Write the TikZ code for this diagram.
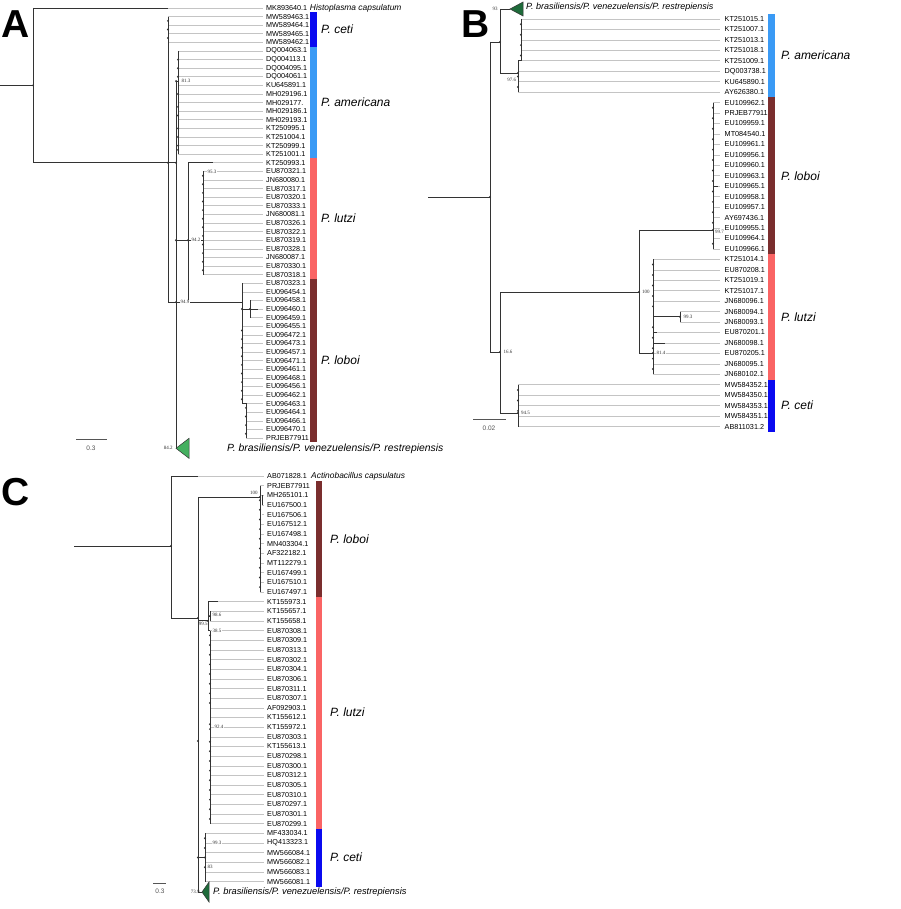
\documentclass[tikz,border=0pt]{standalone}
\usepackage{fontspec}
\setmainfont{Liberation Sans}
\newfontfamily\bsfont{Liberation Serif}
\definecolor{cceti}{HTML}{0A0AF0}
\definecolor{camer}{HTML}{3A9AF5}
\definecolor{clutzi}{HTML}{FA6464}
\definecolor{cloboi}{HTML}{7A2E2E}
\definecolor{tgA}{HTML}{45B060}
\definecolor{tgB}{HTML}{1E6B3A}
\definecolor{brc}{HTML}{333333}
\definecolor{lfc}{HTML}{C4C4C4}
\definecolor{scl}{HTML}{555555}
\newcommand\YA[1]{(8+8.6*(#1))}
\newcommand\YB[1]{(19+10.45*(#1))}
\newcommand\YC[1]{(476+9.66*(#1))}
\tikzset{
  br/.style={draw=brc, line width=0.9pt},
  lf/.style={draw=lfc, line width=0.6pt},
  lab/.style={font=\fontsize{7.2}{8}\selectfont, anchor=west, inner sep=0pt},
  labB/.style={font=\fontsize{7.25}{8}\selectfont, anchor=west, inner sep=0pt},
  bs/.style={font=\bsfont\fontsize{5}{5.5}\selectfont, inner sep=0.3pt, text=brc},
  clade/.style={font=\itshape\fontsize{12}{14}\selectfont, anchor=west, inner sep=0pt},
  spn/.style={font=\itshape\fontsize{8.4}{9}\selectfont, anchor=west, inner sep=0pt},
  panel/.style={font=\bfseries\fontsize{39}{40}\selectfont, anchor=base west, inner sep=0pt},
  sclab/.style={font=\fontsize{6.5}{7}\selectfont, text=scl, inner sep=0pt},
  tri/.style={draw=brc, line width=0.5pt},
}
\begin{document}
\begin{tikzpicture}[x=1pt,y=-1pt]
\useasboundingbox (0,0) rectangle (900,909);
\fill[white] (0,0) rectangle (900,909);

%% ================= PANEL A =================
\node[panel] (pA) at (1,38) {A};
\foreach \lab/\sx [count=\i from 0] in {
 MK893640.1/168, MW589463.1/168, MW589464.1/168, MW589465.1/168, MW589462.1/168,
 DQ004063.1/178, DQ004113.1/178, DQ004095.1/178, DQ004061.1/178, KU645891.1/178,
 MH029196.1/178, MH029177./178, MH029186.1/178, MH029193.1/178, KT250995.1/178,
 KT251004.1/178, KT250999.1/178, KT251001.1/178,
 KT250993.1/213, EU870321.1/203, JN680080.1/203, EU870317.1/203, EU870320.1/203,
 EU870333.1/203, JN680081.1/203, EU870326.1/203, EU870322.1/203, EU870319.1/203,
 EU870328.1/203, JN680087.1/203, EU870330.1/203, EU870318.1/203,
 EU870323.1/242, EU096454.1/242, EU096458.1/250, EU096460.1/258, EU096459.1/250,
 EU096455.1/242, EU096472.1/242, EU096473.1/242, EU096457.1/242, EU096471.1/242,
 EU096461.1/242, EU096468.1/242, EU096456.1/242, EU096462.1/242,
 EU096463.1/246, EU096464.1/246, EU096466.1/246, EU096470.1/246, PRJEB77911/246}{
  \pgfmathsetmacro\yy{\YA{\i}}
  \draw[lf] (\sx,\yy) -- (263,\yy);
  \node[lab] (a\i) at (266,\yy) {\lab};
}
\node[spn] (histo) at ([xshift=2.5pt]a0.east) {Histoplasma capsulatum};
% branches
\draw[br] (0,{\YA{9}}) -- (33,{\YA{9}});
\draw[br] (33,{\YA{0}}) -- (33,{\YA{18}});
\draw[br] (33,{\YA{0}}) -- (168,{\YA{0}});
\draw[br] (33,{\YA{18}}) -- (176,{\YA{18}});
\draw[br] (168,{\YA{1}}) -- (168,{\YA{34.2}}) -- (242,{\YA{34.2}});
\draw[br] (176,{\YA{8.5}}) -- (176,{\YA{51.2}});
\draw[br] (176,{\YA{8.5}}) -- (178,{\YA{8.5}});
\draw[br] (178,{\YA{5}}) -- (178,{\YA{17}});
\draw[br] (176,{\YA{27}}) -- (203,{\YA{27}});
\draw[br] (188,{\YA{18}}) -- (188,{\YA{34.2}});
\draw[br] (188,{\YA{18}}) -- (213,{\YA{18}});
\draw[br] (203,{\YA{19}}) -- (203,{\YA{31}});
\draw[br] (242,{\YA{32}}) -- (242,{\YA{46}}) -- (246,{\YA{46}}) -- (246,{\YA{50}});
\draw[br] (242,{\YA{35}}) -- (258,{\YA{35}});
\draw[br] (250,{\YA{34}}) -- (250,{\YA{36}});
% dots
\foreach \p in {(33,{\YA{9}}),(168,{\YA{18}}),(176,{\YA{18}}),(168,{\YA{1.5}}),(168,{\YA{2.5}}),(168,{\YA{3.5}}),(176,{\YA{8.5}}),(176,{\YA{27}}),(176,{\YA{34.2}}),(188,{\YA{27}}),(250,{\YA{35}}),(242,{\YA{35}})}
  \fill[brc] \p circle (1.1pt);
\foreach \i in {6,7,8,10,11.5,12.5,14,15,16,16.5} \fill[brc] (178,{\YA{\i}}) circle (1.1pt);
\foreach \i in {19.5,20.5,21.5,22.5,23.5,24.5,25.5,26.5,27.5,28.5,29.5,30.5} \fill[brc] (203,{\YA{\i}}) circle (1.1pt);
\foreach \i in {37.5,38.5,39.5,40.5,41.5,42.5,43.5,44.5,45.5} \fill[brc] (242,{\YA{\i}}) circle (1.1pt);
\foreach \i in {46.5,47.5,48.5,49.5} \fill[brc] (246,{\YA{\i}}) circle (1.1pt);
% triangle
\filldraw[tri, fill=tgA] (176,{\YA{51.2}}) -- (189,{\YA{51.2}-10}) -- (189,{\YA{51.2}+10}) -- cycle;
\node[font=\itshape\fontsize{10.4}{12}\selectfont, anchor=west, inner sep=0pt] (trA) at (227,{\YA{51.2}}) {P. brasiliensis/P. venezuelensis/P. restrepiensis};
% bootstraps
\node[bs, fill=white, anchor=west] (bA1) at (181,{\YA{8.5}}) {81.3};
\node[bs, fill=white, anchor=west] (bA2) at (191,{\YA{27}}) {94.2};
\node[bs, fill=white, anchor=west] (bA3) at (180,{\YA{34.2}}) {94.9};
\node[bs, fill=white, anchor=west] (bA4) at (207,{\YA{19}}) {95.3};
\node[bs, anchor=east] (bA5) at (173,{\YA{51.2}}) {84.2};
% scale bar
\draw[scl, line width=0.8pt] (76,{\YA{50.2}}) -- (107,{\YA{50.2}});
\node[sclab] (sA) at (91,{\YA{51.2}}) {0.3};
% colour bars
\fill[cceti] (310,{\YA{0.5}}) rectangle (316.5,{\YA{4.5}});
\fill[camer] (310,{\YA{4.5}}) rectangle (316.5,{\YA{17.5}});
\fill[clutzi] (310,{\YA{17.5}}) rectangle (316.5,{\YA{31.5}});
\fill[cloboi] (310,{\YA{31.5}}) rectangle (316.5,{\YA{50.5}});
\node[clade] (cA1) at (321,{\YA{2.5}}) {P. ceti};
\node[clade] (cA2) at (321,{\YA{11}}) {P. americana};
\node[clade] (cA3) at (321,{\YA{24.5}}) {P. lutzi};
\node[clade] (cA4) at (321,{\YA{41}}) {P. loboi};

%% ================= PANEL B =================
\node[panel] (pB) at (461,38) {B};
\foreach \lab/\sx [count=\i from 0] in {
 KT251015.1/521, KT251007.1/521, KT251013.1/521, KT251018.1/521, KT251009.1/521,
 DQ003738.1/518, KU645890.1/518, AY626380.1/518,
 EU109962.1/713, PRJEB77911/713, EU109959.1/713, MT084540.1/713, EU109961.1/713,
 EU109956.1/713, EU109960.1/713, EU109963.1/713, EU109965.1/718, EU109958.1/713,
 EU109957.1/713, AY697436.1/713, EU109955.1/713, EU109964.1/713, EU109966.1/713,
 KT251014.1/653, EU870208.1/653, KT251019.1/653, KT251017.1/653, JN680096.1/653,
 JN680094.1/680, JN680093.1/680, EU870201.1/657, JN680098.1/665, EU870205.1/653,
 JN680095.1/653, JN680102.1/653,
 MW584352.1/518, MW584350.1/518, MW584353.1/518, MW584351.1/518, AB811031.2/518}{
  \pgfmathsetmacro\yy{\YB{\i}}
  \draw[lf] (\sx,\yy) -- (720,\yy);
  \node[labB] (b\i) at (724.5,\yy) {\lab};
}
\draw[br] (428,197) -- (490,197);
\draw[br] (490,42) -- (490,352);
\draw[br] (490,42) -- (500,42);
\draw[br] (500,9) -- (500,73);
\draw[br] (500,9) -- (510,9);
\draw[br] (500,73) -- (518,73);
\draw[br] (518,{\YB{4}}) -- (518,{\YB{7}});
\draw[br] (518,{\YB{4}}) -- (521,{\YB{4}});
\draw[br] (521,{\YB{0}}) -- (521,{\YB{4}});
\draw[br] (490,352) -- (500,352);
\draw[br] (500,292) -- (500,413);
\draw[br] (500,292) -- (639,292);
\draw[br] (639,230) -- (639,353);
\draw[br] (639,230) -- (713,230);
\draw[br] (713,{\YB{8}}) -- (713,{\YB{22}});
\draw[br] (713,{\YB{16}}) -- (718,{\YB{16}});
\draw[br] (639,353) -- (653,353);
\draw[br] (653,{\YB{23}}) -- (653,{\YB{34}});
\draw[br] (653,{\YB{28.5}}) -- (680,{\YB{28.5}});
\draw[br] (680,{\YB{28}}) -- (680,{\YB{29}});
\draw[br] (653,{\YB{30}}) -- (657,{\YB{30}});
\draw[br] (653,{\YB{31}}) -- (665,{\YB{31}});
\draw[br] (500,413) -- (518,413);
\draw[br] (518,{\YB{35}}) -- (518,{\YB{39}});
\foreach \p in {(490,197),(500,42),(500,352),(639,292),(653,353),(518,413),(518,73),(713,230),(680,{\YB{28.5}})}
  \fill[brc] \p circle (1.1pt);
\foreach \i in {0.5,1.5,2.5,3.5} \fill[brc] (521,{\YB{\i}}) circle (1.1pt);
\foreach \i in {5.5,6.5} \fill[brc] (518,{\YB{\i}}) circle (1.1pt);
\foreach \i in {8.5,9.5,10.5,11.5,12.5,13.5,14.5,15.5,16.5,17.5,18.5,19.5,21.5} \fill[brc] (713,{\YB{\i}}) circle (1.1pt);
\foreach \i in {23.5,24.5,25.5,26.5,27.5,29.5,30.5,31.5,32.5,33.5} \fill[brc] (653,{\YB{\i}}) circle (1.1pt);
\foreach \i in {35.5,36.5,37.5} \fill[brc] (518,{\YB{\i}}) circle (1.1pt);
\filldraw[tri, fill=tgB] (510,9) -- (523,2) -- (523,16) -- cycle;
\node[font=\itshape\fontsize{9}{11}\selectfont, anchor=west, inner sep=0pt] (trB) at (526,7) {P. brasiliensis/P. venezuelensis/P. restrepiensis};
\node[bs, anchor=east] (bB1) at (498,9) {93};
\node[bs, anchor=east] (bB2) at (516.5,80) {97.6};
\node[bs, anchor=west] (bB3) at (503,352) {16.6};
\node[bs, fill=white, anchor=west] (bB4) at (641.5,292) {100};
\node[bs, anchor=west] (bB5) at (714.5,232) {99.7};
\node[bs, fill=white, anchor=west] (bB6) at (683,{\YB{28.5}}) {99.3};
\node[bs, fill=white, anchor=west] (bB7) at (656,353) {81.4};
\node[bs, fill=white, anchor=west] (bB8) at (520.5,413) {94.5};
\draw[scl, line width=0.8pt] (473,419) -- (506,419);
\node[sclab] (sB) at (489,428) {0.02};
\fill[camer] (768,{\YB{-0.5}}) rectangle (775,{\YB{7.5}});
\fill[cloboi] (768,{\YB{7.5}}) rectangle (775,{\YB{22.5}});
\fill[clutzi] (768,{\YB{22.5}}) rectangle (775,{\YB{34.5}});
\fill[cceti] (768,{\YB{34.5}}) rectangle (775,{\YB{39.5}});
\node[clade] (cB1) at (781,{\YB{3.5}}) {P. americana};
\node[clade] (cB2) at (781,{\YB{15}}) {P. loboi};
\node[clade] (cB3) at (781,{\YB{28.5}}) {P. lutzi};
\node[clade] (cB4) at (781,{\YB{37}}) {P. ceti};

%% ================= PANEL C =================
\node[panel] (pC) at (1,505) {C};
\foreach \lab/\sx [count=\i from 0] in {
 AB071828.1/198,
 PRJEB77911/260, MH265101.1/260, EU167500.1/262, EU167506.1/262, EU167512.1/260,
 EU167498.1/260, MN403304.1/260, AF322182.1/260, MT112279.1/260, EU167499.1/260,
 EU167510.1/260, EU167497.1/260,
 KT155973.1/218, KT155657.1/210, KT155658.1/210,
 EU870308.1/210, EU870309.1/210, EU870313.1/210, EU870302.1/210, EU870304.1/210,
 EU870306.1/210, EU870311.1/210, EU870307.1/210, AF092903.1/210, KT155612.1/210,
 KT155972.1/210, EU870303.1/210, KT155613.1/210, EU870298.1/210, EU870300.1/210,
 EU870312.1/210, EU870305.1/210, EU870310.1/210, EU870297.1/210, EU870301.1/210,
 EU870299.1/210,
 MF433034.1/205, HQ413323.1/205, MW566084.1/205, MW566082.1/205, MW566083.1/205,
 MW566081.1/205}{
  \pgfmathsetmacro\yy{\YC{\i}}
  \draw[lf] (\sx,\yy) -- (264,\yy);
  \node[lab] (c\i) at (267,\yy) {\lab};
}
\node[spn] (acti) at ([xshift=4pt]c0.east) {Actinobacillus capsulatus};
\draw[br] (74,546) -- (171,546);
\draw[br] (171,{\YC{0}}) -- (171,618);
\draw[br] (171,{\YC{0}}) -- (198,{\YC{0}});
\draw[br] (171,618) -- (198,618);
\draw[br] (198,497) -- (198,892) -- (202,892);
\draw[br] (198,497) -- (260,497);
\draw[br] (260,{\YC{1}}) -- (260,{\YC{12}});
\draw[br] (262,{\YC{2}}) -- (262,{\YC{3}});
\draw[br] (198,{\YC{15}}) -- (208,{\YC{15}});
\draw[br] (208,{\YC{13}}) -- (208,{\YC{16}});
\draw[br] (208,{\YC{13}}) -- (218,{\YC{13}});
\draw[br] (208,{\YC{14.5}}) -- (210,{\YC{14.5}});
\draw[br] (210,{\YC{14}}) -- (210,{\YC{15}});
\draw[br] (208,{\YC{16}}) -- (210,{\YC{16}});
\draw[br] (210,{\YC{16}}) -- (210,{\YC{36}});
\draw[br] (198,{\YC{39.5}}) -- (205,{\YC{39.5}});
\draw[br] (205,{\YC{37}}) -- (205,{\YC{42}});
\foreach \p in {(171,546),(198,618),(198,741),(198,{\YC{39.5}}),(208,{\YC{15}}),(210,{\YC{14.5}}),(260,497),(210,{\YC{25.7}}),(210,{\YC{26.2}})}
  \fill[brc] \p circle (1.1pt);
\foreach \i in {2.5,3.5,4.5,5.5,6.5,7.5,8.5,9.5,10.5,11.5} \fill[brc] (260,{\YC{\i}}) circle (1.1pt);
\foreach \i in {16.5,17.5,18.5,19.5,20.5,21.5,22.5,23.5,27.5,28.5,29.5,30.5,31.5,32.5,33.5,34.5,35.5} \fill[brc] (210,{\YC{\i}}) circle (1.1pt);
\foreach \i in {37.5,38.5,39.5,40.5} \fill[brc] (205,{\YC{\i}}) circle (1.1pt);
\filldraw[tri, fill=tgB] (202,892) -- (209,882) -- (209,902) -- cycle;
\node[font=\itshape\fontsize{9.3}{11}\selectfont, anchor=west, inner sep=0pt] (trC) at (213,892) {P. brasiliensis/P. venezuelensis/P. restrepiensis};
\node[bs, fill=white, anchor=east] (bC1) at (258,493) {100};
\node[bs, anchor=east] (bC2) at (208,{\YC{15}+3}) {99.5};
\node[bs, fill=white, anchor=west] (bC3) at (212,{\YC{14.4}}) {98.6};
\node[bs, fill=white, anchor=west] (bC4) at (212,{\YC{16}}) {38.5};
\node[bs, fill=white, anchor=west] (bC5) at (214,{\YC{26}}) {92.4};
\node[bs, fill=white, anchor=west] (bC6) at (212,{\YC{38}}) {99.3};
\node[bs, fill=white, anchor=west] (bC7) at (207,{\YC{40.5}}) {83};
\node[bs, anchor=east] (bC8) at (200,892) {73.9};
\draw[scl, line width=0.8pt] (153,883) -- (166,883);
\node[sclab] (sC) at (160,891) {0.3};
\fill[cloboi] (316,{\YC{0.5}}) rectangle (322,{\YC{12.5}});
\fill[clutzi] (316,{\YC{12.5}}) rectangle (322,{\YC{36.5}});
\fill[cceti] (316,{\YC{36.5}}) rectangle (322,{\YC{42.5}});
\node[clade] (cC1) at (330,{\YC{6.5}}) {P. loboi};
\node[clade] (cC2) at (330,{\YC{24.5}}) {P. lutzi};
\node[clade] (cC3) at (330,{\YC{39.5}}) {P. ceti};
\end{tikzpicture}
\end{document}
